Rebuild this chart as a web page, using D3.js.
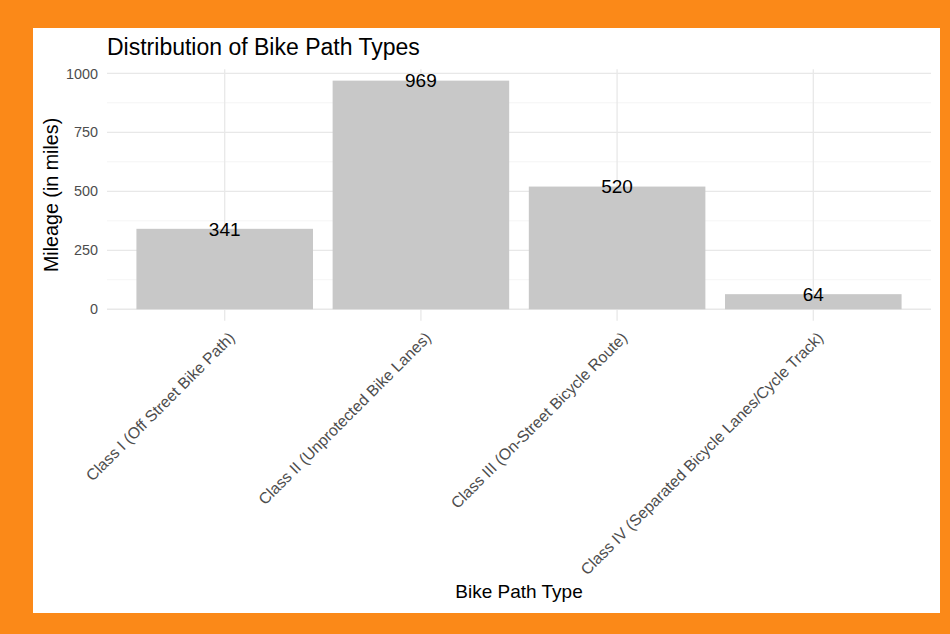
<!DOCTYPE html>
<html>
<head>
<meta charset="utf-8">
<script src="https://cdn.jsdelivr.net/npm/d3@7"></script>
<style>
  html, body { margin: 0; padding: 0; background: #FB8918; }
  svg { display: block; }
  text { font-family: "Liberation Sans", Arial, sans-serif; }
</style>
</head>
<body>
<svg id="chart" width="950" height="634"></svg>
<script>
const categories = [
  "Class I (Off Street Bike Path)",
  "Class II (Unprotected Bike Lanes)",
  "Class III (On-Street Bicycle Route)",
  "Class IV (Separated Bicycle Lanes/Cycle Track)"
];
const mileage = [341, 969, 520, 64];
const yTicks = [0, 250, 500, 750, 1000];
const yMinorTicks = [125, 375, 625, 875];
const title = "Distribution of Bike Path Types";
const xTitle = "Bike Path Type";
const yTitle = "Mileage (in miles)";

const data = categories.map((c, i) => ({ cat: c, val: mileage[i] }));

const svg = d3.select("#chart");
const W = 950, H = 634;

// orange frame + white card
svg.append("rect").attr("x", 0).attr("y", 0).attr("width", W).attr("height", H).attr("fill", "#FB8918");
svg.append("rect").attr("x", 33).attr("y", 28).attr("width", 907).attr("height", 585).attr("fill", "#FFFFFF");

const panel = { left: 107, right: 931, top: 69.2, bottom: 320.7 };

const ymax = d3.max(mileage);
const pad = ymax * 0.05;
const y = d3.scaleLinear().domain([-pad, ymax + pad]).range([panel.bottom, panel.top]);
const x = d3.scaleBand().domain(categories).range([panel.left, panel.right])
  .paddingInner(0.1).paddingOuter(0.15);

const g = svg.append("g");

// minor grid
g.selectAll("line.minor").data(yMinorTicks).enter().append("line")
  .attr("x1", panel.left).attr("x2", panel.right)
  .attr("y1", d => y(d)).attr("y2", d => y(d))
  .attr("stroke", "#EFEFEF").attr("stroke-width", 0.7);
// major horizontal grid
g.selectAll("line.majorY").data(yTicks).enter().append("line")
  .attr("x1", panel.left).attr("x2", panel.right)
  .attr("y1", d => y(d)).attr("y2", d => y(d))
  .attr("stroke", "#E8E8E8").attr("stroke-width", 1.3);
// vertical grid
g.selectAll("line.majorX").data(categories).enter().append("line")
  .attr("x1", d => x(d) + x.bandwidth() / 2).attr("x2", d => x(d) + x.bandwidth() / 2)
  .attr("y1", panel.top).attr("y2", panel.bottom)
  .attr("stroke", "#E8E8E8").attr("stroke-width", 1.3);

// bars
g.selectAll("rect.bar").data(data).enter().append("rect")
  .attr("x", d => x(d.cat)).attr("width", x.bandwidth())
  .attr("y", d => y(d.val)).attr("height", d => y(0) - y(d.val))
  .attr("fill", "#C8C8C8");

// value labels
g.selectAll("text.val").data(data).enter().append("text")
  .attr("x", d => x(d.cat) + x.bandwidth() / 2)
  .attr("y", d => y(d.val))
  .attr("dy", "0.36em")
  .attr("text-anchor", "middle")
  .attr("font-size", "19px")
  .attr("fill", "#000")
  .text(d => d.val);

// y tick labels
g.selectAll("text.ytick").data(yTicks).enter().append("text")
  .attr("x", 98).attr("y", d => y(d)).attr("dy", "0.36em")
  .attr("text-anchor", "end").attr("font-size", "14.4px").attr("fill", "#4D4D4D")
  .text(d => d);

// x tick labels
g.selectAll("text.xtick").data(categories).enter().append("text")
  .attr("transform", d => `translate(${x(d) + x.bandwidth() / 2 + 3},${panel.bottom + 10}) rotate(-45)`)
  .attr("text-anchor", "end").attr("dy", "0.72em")
  .attr("font-size", "15.8px").attr("fill", "#4D4D4D")
  .text(d => d);

// title
svg.append("text").attr("x", 107).attr("y", 55)
  .attr("font-size", "23px").attr("fill", "#000").text(title);

// axis titles
svg.append("text").attr("x", (panel.left + panel.right) / 2).attr("y", 598)
  .attr("text-anchor", "middle").attr("font-size", "19px").attr("fill", "#000").text(xTitle);
svg.append("text")
  .attr("transform", `translate(58,${(panel.top + panel.bottom) / 2}) rotate(-90)`)
  .attr("text-anchor", "middle").attr("font-size", "19.7px").attr("fill", "#000").text(yTitle);
</script>
</body>
</html>
